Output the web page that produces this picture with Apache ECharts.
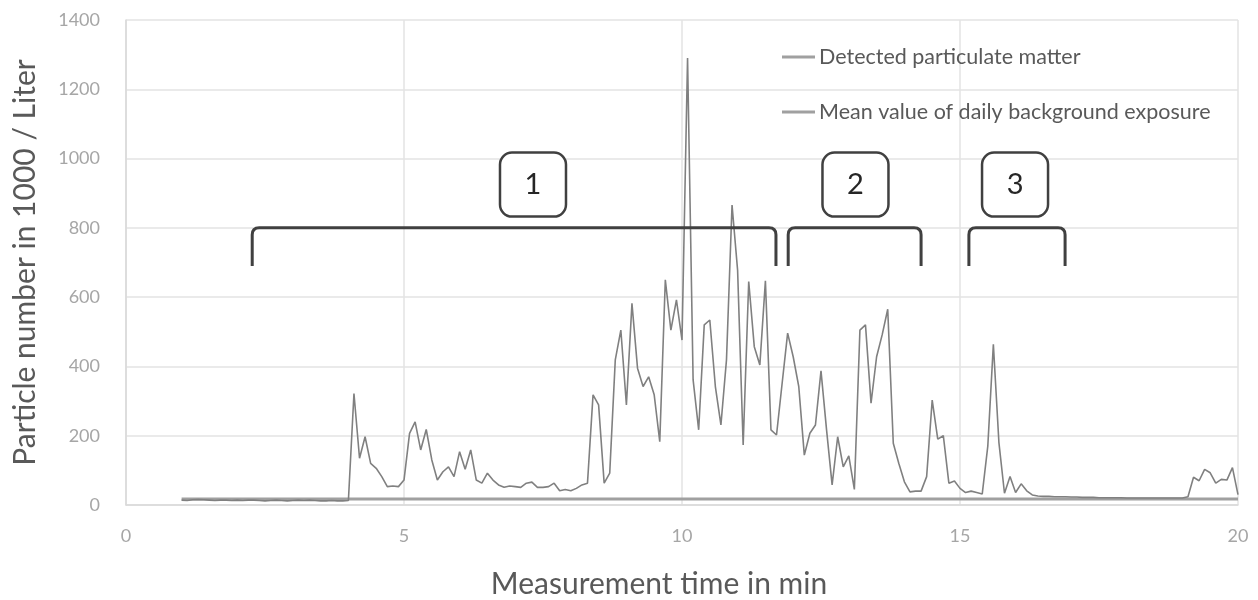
<!DOCTYPE html>
<html>
<head>
<meta charset="utf-8">
<script src="https://cdn.jsdelivr.net/npm/echarts@6/dist/echarts.min.js"></script>
<style>
  html, body { margin: 0; padding: 0; background: #fff; }
  #main { width: 1258px; height: 600px; }
</style>
</head>
<body>
<div id="main"></div>
<script>
// measurement every 0.1 min, from 1.0 to 20.0 min
var timeStart = 1.0;
var timeStep = 0.1;
var particles = [
  14, 13, 15, 16, 15, 14, 13, 14, 14, 13,
  14, 13, 14, 14, 13, 12, 13, 14, 13, 12,
  13, 14, 13, 14, 13, 12, 12, 13, 12, 12,
  13, 322, 135, 197, 120, 106, 82, 53, 55, 53,
  72, 207, 240, 159, 218, 130, 72, 96, 110, 82,
  154, 103, 159, 72, 63, 92, 72, 58, 51, 55,
  53, 51, 63, 66, 51, 51, 53, 63, 41, 45,
  41, 48, 58, 63, 318, 289, 63, 92, 419, 505,
  289, 582, 395, 342, 370, 318, 183, 650, 505, 592,
  476, 1290, 361, 217, 520, 534, 342, 231, 419, 866,
  678, 173, 645, 457, 404, 647, 217, 202, 350, 496,
  428, 342, 144, 207, 231, 387, 217, 58, 197, 110,
  142, 45, 505, 520, 294, 428, 491, 565, 178, 120,
  67, 38, 40, 40, 82, 303, 190, 200, 63, 69,
  48, 36, 40, 36, 32, 170, 464, 180, 34, 82,
  36, 61, 41, 29, 26, 25, 25, 24, 24, 24,
  23, 23, 22, 22, 22, 21, 21, 21, 21, 21,
  20, 20, 20, 20, 20, 20, 20, 20, 20, 20,
  20, 24, 80, 70, 103, 93, 63, 74, 72, 108,
  30
];
var meanBackground = 17;

// annotation brackets (in axis units)
var bracketStart = [2.27, 11.91, 15.16];
var bracketEnd = [11.69, 14.30, 16.89];
var bracketLevel = 800;
var bracketFoot = 690;
var boxCenter = [7.32, 13.12, 15.99];
var boxLevel = 925;
var boxLabels = ['1', '2', '3'];

var seriesNames = ['Detected particulate matter', 'Mean value of daily background exposure'];

var measured = particles.map(function (v, i) {
  return [+(timeStart + i * timeStep).toFixed(1), v];
});
var lastTime = measured[measured.length - 1][0];
var meanLine = [[timeStart, meanBackground], [lastTime, meanBackground]];

var bracketData = bracketStart.map(function (s, i) {
  return [s, bracketEnd[i], bracketLevel, bracketFoot, boxCenter[i], boxLevel, boxLabels[i]];
});

var fontFam = 'Lato, "Open Sans", sans-serif';
var myChart = echarts.init(document.getElementById('main'));

var option = {
  animation: false,
  textStyle: { fontFamily: fontFam },
  grid: { left: 126, right: 20, top: 20, bottom: 95, outerBoundsMode: 'none', containLabel: false },
  legend: {
    orient: 'vertical',
    left: 777,
    top: 41,
    itemGap: 33,
    itemWidth: 33,
    itemHeight: 3,
    textStyle: { color: '#595959', fontSize: 21.5, fontFamily: fontFam, padding: [0, 0, 0, -1] },
    data: [
      { name: seriesNames[0], icon: 'rect' },
      { name: seriesNames[1], icon: 'rect' }
    ]
  },
  xAxis: {
    type: 'value',
    min: 0,
    max: 20,
    interval: 5,
    name: 'Measurement time in min',
    nameLocation: 'middle',
    nameGap: 64,
    nameTextStyle: { color: '#595959', fontSize: 30, fontFamily: fontFam, padding: [0, 46, 0, 0] },
    axisLine: { show: true, lineStyle: { color: '#d9d9d9', width: 1.5 } },
    axisTick: { show: false },
    axisLabel: { color: '#a6a6a6', fontSize: 18, margin: 22 },
    splitLine: { show: true, lineStyle: { color: '#e3e3e3', width: 1.5 } }
  },
  yAxis: {
    type: 'value',
    min: 0,
    max: 1400,
    interval: 200,
    name: 'Particle number in 1000 / Liter',
    nameLocation: 'middle',
    nameGap: 86,
    nameTextStyle: { color: '#595959', fontSize: 30, fontFamily: fontFam },
    axisLine: { show: true, lineStyle: { color: '#d9d9d9', width: 1.5 } },
    axisTick: { show: false },
    axisLabel: {
      color: '#a6a6a6', fontSize: 18, margin: 26,
      formatter: function (v) { return String(v); }
    },
    splitLine: { show: true, lineStyle: { color: '#e3e3e3', width: 1.5 } }
  },
  series: [
    {
      name: seriesNames[1],
      type: 'line',
      data: meanLine,
      showSymbol: false,
      itemStyle: { color: '#a0a0a0' },
      lineStyle: { color: '#a0a0a0', width: 3 },
      z: 2
    },
    {
      name: seriesNames[0],
      type: 'line',
      data: measured,
      showSymbol: false,
      itemStyle: { color: '#a0a0a0' },
      lineStyle: { color: '#808080', width: 1.6 },
      z: 3
    },
    {
      type: 'custom',
      name: 'brackets',
      data: bracketData,
      z: 5,
      silent: true,
      renderItem: function (params, api) {
        var s = api.coord([api.value(0), api.value(2)]);
        var e = api.coord([api.value(1), api.value(2)]);
        var foot = api.coord([api.value(0), api.value(3)])[1];
        var c = api.coord([api.value(4), api.value(5)]);
        var r = 7;
        var d = 'M' + s[0] + ' ' + foot +
          ' L' + s[0] + ' ' + (s[1] + r) +
          ' Q' + s[0] + ' ' + s[1] + ' ' + (s[0] + r) + ' ' + s[1] +
          ' L' + (e[0] - r) + ' ' + e[1] +
          ' Q' + e[0] + ' ' + e[1] + ' ' + e[0] + ' ' + (e[1] + r) +
          ' L' + e[0] + ' ' + foot;
        return {
          type: 'group',
          children: [
            {
              type: 'path',
              shape: { pathData: d },
              style: { stroke: '#404040', lineWidth: 3, fill: null }
            },
            {
              type: 'rect',
              shape: { x: c[0] - 33, y: c[1] - 32, width: 66, height: 64, r: 12 },
              style: { fill: '#fff', stroke: '#404040', lineWidth: 2.5 }
            },
            {
              type: 'text',
              style: {
                x: c[0], y: c[1],
                text: bracketData[params.dataIndex][6],
                align: 'center', verticalAlign: 'middle',
                fontSize: 29, fontFamily: fontFam, fill: '#262626'
              }
            }
          ]
        };
      }
    }
  ]
};

myChart.setOption(option);
</script>
</body>
</html>
